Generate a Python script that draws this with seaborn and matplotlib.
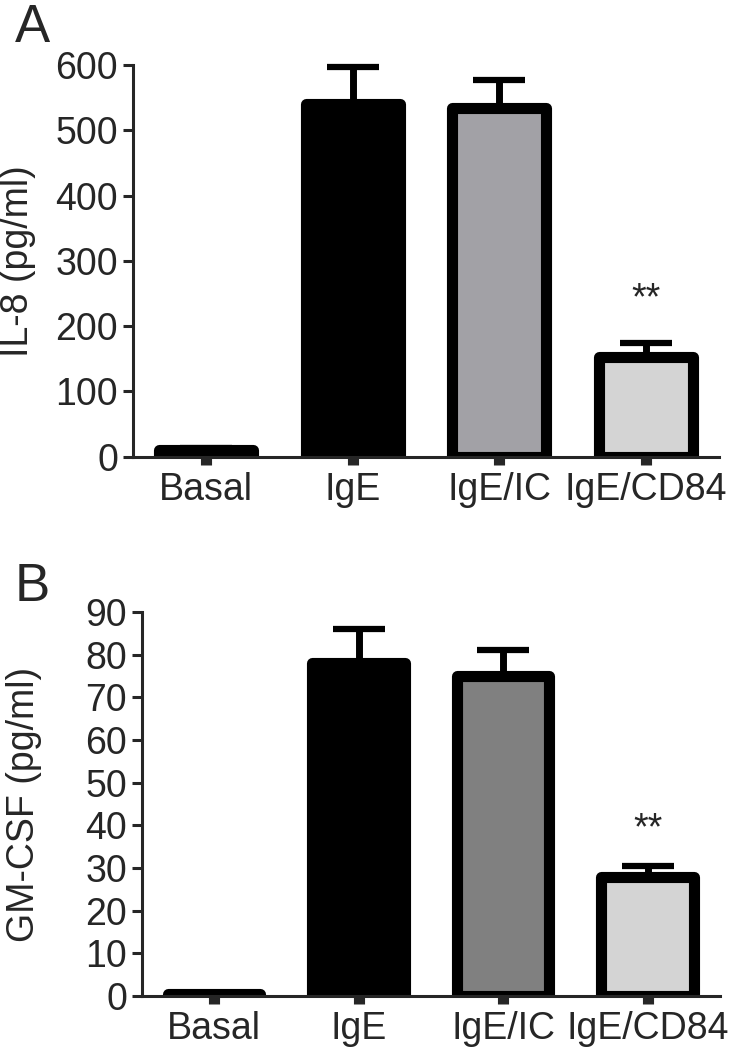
import numpy as np
import matplotlib
matplotlib.use("Agg")
import matplotlib.pyplot as plt
import seaborn as sns

# data (mean, upper error)
groups = ["Basal", "IgE", "IgE/IC", "IgE/CD84"]
il8_mean = [10, 540, 535, 153]
il8_err = [3, 57, 42, 22]
gmcsf_mean = [0.5, 78, 75, 28]
gmcsf_err = [0.3, 8, 6, 2.5]
il8_colors = ["#000000", "#000000", "#a2a1a6", "#d4d4d4"]
gmcsf_colors = ["#000000", "#000000", "#808080", "#d4d4d4"]

sns.set_style("ticks")
plt.rcParams["font.family"] = ["Liberation Sans", "DejaVu Sans"]

fig = plt.figure(figsize=(7.46, 10.5), dpi=100)
ax_a = fig.add_axes([0.178, 0.565, 0.786, 0.373])
ax_b = fig.add_axes([0.190, 0.0514, 0.775, 0.3657])


def draw_panel(ax, means, errs, colors, ymax, step, ylabel, label_x, star_off):
    sns.barplot(x=groups, y=means, hue=groups, palette=colors, legend=False,
                edgecolor="black", linewidth=8, width=0.64, errorbar=None,
                saturation=1, ax=ax)
    for p in ax.patches:
        p.set_joinstyle("round")
    x = np.arange(len(groups))
    ax.errorbar(x, means, yerr=[np.zeros(len(errs)), errs], fmt="none",
                ecolor="black", elinewidth=5, capsize=19, capthick=4.5,
                zorder=1, clip_on=False)
    ax.set_xlim(-0.5, len(groups) - 0.5)
    ax.set_ylim(0, ymax)
    ax.set_yticks(np.arange(0, ymax + step, step))
    for side in ["top", "right"]:
        ax.spines[side].set_visible(False)
    for side in ["left", "bottom"]:
        ax.spines[side].set_linewidth(2.2)
    ax.tick_params(axis="y", direction="out", length=7, width=2.2, pad=3.5,
                   labelsize=27)
    ax.tick_params(axis="x", direction="out", length=6, width=8, pad=5,
                   labelsize=27)
    ax.set_xlabel("")
    ax.set_ylabel(ylabel, fontsize=27)
    ax.yaxis.set_label_coords(label_x, 0.5)
    top = means[-1] + errs[-1]
    ax.text(len(groups) - 1, top + star_off * ymax, "**", ha="center",
            va="center", fontsize=27)


draw_panel(ax_a, il8_mean, il8_err, il8_colors, 600, 100, "IL-8 (pg/ml)",
           -0.165, 0.11)
draw_panel(ax_b, gmcsf_mean, gmcsf_err, gmcsf_colors, 90, 10, "GM-CSF (pg/ml)",
           -0.172, 0.095)

fig.text(0.02, 0.997, "A", fontsize=38, va="top", ha="left")
fig.text(0.02, 0.465, "B", fontsize=38, va="top", ha="left")

fig.savefig("out.png", dpi=100)
